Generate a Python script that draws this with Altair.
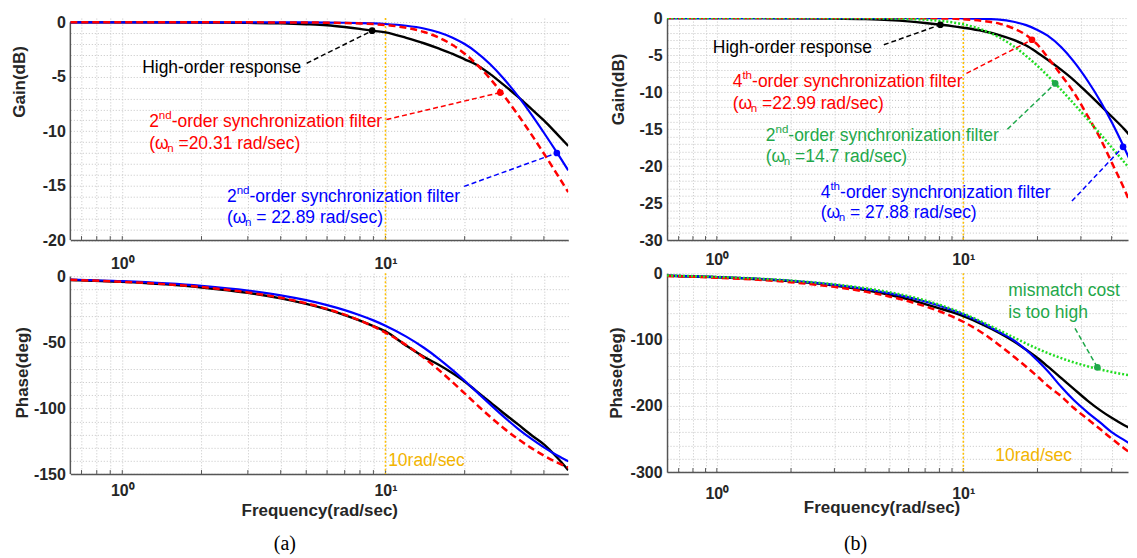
import altair as alt
import pandas as pd

FONT = "Liberation Sans"
SERIF = "Liberation Serif"
INK = "#262626"
AXIS = "#555555"
GRID = "#c4c4c4"
GOLD_LINE = "#ffc000"
GOLD_TEXT = "#f2b400"
RED = "#ff0000"
BLUE = "#0000ff"
BLACK = "#000000"
GREEN = "#22dd22"
GREEN_TXT = "#1fa84a"

grid_freqs = [0.7, 0.8, 0.9, 1, 2, 3, 4, 5, 6, 7, 8, 9, 10, 20, 30, 40]

# ---------------- panel (a) ----------------
freq_a = [0.635, 1, 2, 3, 4, 5, 6, 7, 8, 9, 10, 12, 14, 16, 18, 20, 22, 25, 28, 32, 36, 40, 45, 49.5]
gain_a_high = [0, 0, -0.02, -0.05, -0.09, -0.17, -0.27, -0.43, -0.6, -0.78, -0.92, -1.43, -1.92, -2.42,
               -2.9, -3.4, -3.85, -4.76, -5.7, -6.87, -8.0, -9.01, -10.29, -11.35]
gain_a_red = [0, 0, 0, -0.002, -0.007, -0.016, -0.033, -0.061, -0.103, -0.164, -0.248, -0.5, -0.885, -1.415,
              -2.087, -2.879, -3.76, -5.18, -6.64, -8.55, -10.36, -12.05, -14.0, -15.6]
gain_a_blue = [0, 0, 0, -0.001, -0.004, -0.01, -0.02, -0.038, -0.064, -0.103, -0.155, -0.316, -0.569, -0.93,
               -1.406, -1.994, -2.679, -3.844, -5.105, -6.83, -8.52, -10.14, -12.02, -13.59]
phase_a_high = [-2.6, -4.1, -8.3, -12.4, -16.6, -20.8, -25.0, -29.3, -33.5, -37.6, -41.6, -52.5, -61.0, -67.2,
                -73.5, -79.8, -86.5, -95.4, -103.4, -112.5, -120.7, -127.4, -137.6, -147.0]
phase_a_red = [-2.53, -3.99, -8.0, -12.06, -16.16, -20.33, -24.6, -28.95, -33.4, -37.94, -42.58, -52.08, -61.7,
               -71.2, -80.3, -88.75, -96.45, -106.5, -114.8, -123.6, -130.5, -135.95, -141.3, -145.1]
phase_a_blue = [-2.25, -3.54, -7.1, -10.68, -14.3, -17.97, -21.7, -25.5, -29.4, -33.3, -37.36, -45.63, -54.1,
                -62.65, -71.06, -79.16, -86.8, -97.1, -106.0, -115.8, -123.5, -129.7, -135.9, -140.2]

# ---------------- panel (b) ----------------
freq_b = [0.628, 1, 2, 3, 4, 5, 6, 7, 8, 9, 10, 12, 14, 16, 18, 20, 22, 25, 28, 32, 36, 40, 45, 50.6]
gain_b_high = [0, 0, -0.02, -0.06, -0.14, -0.27, -0.45, -0.66, -0.88, -1.08, -1.3, -1.75, -2.3, -2.95,
               -3.71, -4.67, -5.62, -7.0, -8.34, -10.15, -11.8, -13.3, -15.0, -17.0]
gain_b_red = [0, 0, 0, 0, 0, 0, -0.01, -0.02, -0.04, -0.07, -0.15, -0.38, -0.75, -1.4,
              -2.3, -3.6, -5.3, -7.73, -9.99, -13.25, -16.3, -19.5, -23.1, -27.2]
gain_b_blue = [0, 0, 0, 0, 0, 0, 0, 0, 0, -0.01, -0.03, -0.1, -0.2, -0.5,
               -0.95, -1.6, -2.38, -3.95, -5.82, -8.5, -11.23, -14.04, -17.52, -21.25]
gain_b_green = [0, 0, -0.001, -0.008, -0.024, -0.058, -0.119, -0.218, -0.365, -0.57, -0.843, -1.596, -2.607,
                -3.81, -5.12, -6.46, -7.79, -9.72, -11.51, -13.7, -15.68, -17.47, -19.48, -21.5]
phase_b_high = [-3.8, -6.0, -12.0, -18.5, -25.5, -32.5, -39.5, -46.5, -53.0, -58.8, -64.8, -77.5, -90.0,
                -102.5, -115.5, -128.0, -140.6, -158.3, -174.1, -192.5, -206.9, -218.2, -229.4, -238.5]
phase_b_red = [-4.2, -6.7, -13.6, -20.6, -27.8, -35.0, -42.4, -49.9, -57.4, -65.2, -73.2, -90.5, -108.5,
               -125.5, -141.0, -155.8, -169.7, -185.9, -203.0, -220.2, -235.5, -249.5, -264.3, -278.7]
phase_b_blue = [-3.6, -5.7, -11.5, -17.5, -23.8, -30.0, -36.3, -42.6, -49.0, -55.5, -62.0, -75.5, -88.8,
                -100.8, -115.9, -131.8, -147.6, -171.8, -191.0, -210.2, -225.5, -239.7, -251.9, -263.7]
phase_b_green = [-3.46, -5.52, -11.09, -16.76, -22.56, -28.54, -34.71, -41.05, -47.56, -54.17, -60.82, -73.88,
                 -86.05, -96.84, -106.1, -113.86, -120.36, -128.2, -134.3, -140.5, -145.3, -149.0, -152.65, -155.8]

marker_freq = [10]

# annotation anchors (frequency, value)
ann_a_black_line = [(5.02, -3.76), (8.9, -0.77)]
ann_a_red_line = [(10.09, -8.93), (27.3, -6.45)]
ann_a_blue_line = [(19.9, -15.07), (44.8, -12.0)]
ann_b_black_line = [(4.76, -3.61), (8.07, -0.9)]
ann_b_red_line = [(10.3, -7.48), (19.0, -2.93)]
ann_b_green_line = [(15.1, -15.03), (23.6, -8.83)]
ann_b_blue_line = [(27.6, -24.73), (44.5, -17.4)]
ann_b_mismatch_line = [(28.4, -83.2), (35.0, -142.0)]

# Arial-like advance widths (per 1000 em)
WID = {' ': 278, '(': 333, ')': 333, '-': 333, '.': 278, '/': 278, '=': 584, 'ω': 700,
       'H': 722, 'a': 556, 'b': 556, 'c': 500, 'd': 556, 'e': 556, 'f': 278, 'g': 556, 'h': 556,
       'i': 222, 'l': 222, 'm': 833, 'n': 556, 'o': 556, 'p': 556, 'r': 333, 's': 500, 't': 278,
       'u': 556, 'y': 500, 'z': 500}


def tw(s):
    return sum(WID.get(c, 556) for c in s) / 1000.0


def xenc(domain, label_pad, title="", title_x=0, title_y=0):
    ax = dict(values=grid_freqs,
              labelExpr="datum.value == 1 ? '10⁰' : (datum.value == 10 ? '10¹' : '')",
              grid=True, gridColor=GRID, gridDash=[1, 2], gridWidth=1,
              ticks=False, domain=True, domainColor=AXIS, domainWidth=1.5,
              labelFont=FONT, labelFontSize=16, labelFontWeight="bold", labelColor=INK,
              labelPadding=label_pad, labelOverlap=False, labelBound=False, labelFlush=False,
              title=title)
    if title:
        ax.update(titleFont=FONT, titleFontSize=17, titleFontWeight="bold", titleColor=INK,
                  titleX=title_x, titleY=title_y, titleAlign="center", titleBaseline="middle")
    return alt.X("f:Q", scale=alt.Scale(type="log", domain=domain, nice=False), axis=alt.Axis(**ax))


def yenc(domain, values, step, title, tx, ty, show_domain=True):
    return alt.Y("v:Q", scale=alt.Scale(domain=domain, nice=False, zero=False),
                 axis=alt.Axis(values=values,
                               labelExpr=f"datum.value % {step} == 0 ? '' + datum.value : ''",
                               grid=True, gridColor=GRID, gridDash=[1, 2], gridWidth=1, ticks=False,
                               domain=show_domain, domainColor=AXIS, domainWidth=1.5,
                               labelFont=FONT, labelFontSize=16,
                               labelFontWeight="bold", labelColor=INK, labelPadding=5,
                               labelOverlap=False, labelBound=False, labelFlush=False,
                               title=title, titleFont=FONT, titleFontSize=17, titleFontWeight="bold",
                               titleColor=INK, titleAngle=270, titleX=tx, titleY=ty,
                               titleAlign="center", titleBaseline="middle"))


def left_edge(top, bottom, Y):
    df = pd.DataFrame({"v": [top], "v2": [bottom]})
    return alt.Chart(df).mark_rule(color=AXIS, strokeWidth=1.5).encode(
        x=alt.value(0), y=Y, y2="v2:Q")


def curve(freqs, vals, color, X, Y, dash=None, width=2.2):
    df = pd.DataFrame({"f": freqs, "v": vals})
    kw = dict(color=color, strokeWidth=width, clip=True, interpolate="monotone")
    if dash is not None:
        kw["strokeDash"] = dash
    return alt.Chart(df).mark_line(**kw).encode(x=X, y=Y)


def pointer(pts, color, X, Y):
    df = pd.DataFrame({"f": [p[0] for p in pts], "v": [p[1] for p in pts]})
    line = alt.Chart(df).mark_line(color=color, strokeWidth=1.5, strokeDash=[5, 3]).encode(x=X, y=Y)
    dot = alt.Chart(df.iloc[[1]]).mark_circle(size=45, color=color, opacity=1).encode(x=X, y=Y)
    return [line, dot]


def rich(f, v, parts, color, X, Y, size=17.5):
    """Text with super/subscript pieces; leading spaces become a horizontal offset."""
    df = pd.DataFrame({"f": [f], "v": [v]})
    out = []
    off = 0.0
    for txt, kind in parts:
        fs = size if kind == "n" else round(size * 0.66, 1)
        dy = {"n": 0, "sup": -6, "sub": 5}[kind]
        stripped = txt.lstrip(" ")
        off += (len(txt) - len(stripped)) * 0.278 * fs
        out.append(alt.Chart(df).mark_text(text=stripped, align="left", baseline="middle", dx=round(off, 1),
                                           dy=dy, font=FONT, fontSize=fs, color=color).encode(x=X, y=Y))
        off += tw(stripped) * fs
    return out


def frame(X, height):
    ticks = alt.Chart(pd.DataFrame({"f": grid_freqs})).mark_rule(color=AXIS, strokeWidth=1).encode(
        x=X, y=alt.value(height - 4), y2=alt.value(height))
    mark = alt.Chart(pd.DataFrame({"f": marker_freq})).mark_rule(
        color=GOLD_LINE, strokeWidth=1.5, strokeDash=[2, 2]).encode(x=X)
    return [ticks, mark]


def caption(txt, x, y):
    return alt.Chart(pd.DataFrame({"k": [0]})).mark_text(
        text=txt, font=SERIF, fontSize=20, color="#000000", align="center", baseline="middle").encode(
        x=alt.value(x), y=alt.value(y))


WA, WB = 499, 462
HG = 222.5   # both gain panels (left one carries a small headroom above 0 dB)
HP_A, HP_B = 201.3, 199.3
DOM_A = [0.635, 49.5]
DOM_B = [0.628, 46.6]

# ---- (a) gain ----
X = xenc(DOM_A, 15)
Y = yenc([-20, 0.39], list(range(-20, 1)), 5, "Gain(dB)", -51, 63.5, show_domain=False)
layers = frame(X, HG) + [left_edge(0, -20, Y)]
layers += [curve(freq_a, gain_a_high, BLACK, X, Y, width=2.4),
           curve(freq_a, gain_a_blue, BLUE, X, Y),
           curve(freq_a, gain_a_red, RED, X, Y, dash=[7, 4], width=2.5)]
layers += pointer(ann_a_black_line, BLACK, X, Y)
layers += pointer(ann_a_red_line, RED, X, Y)
layers += pointer(ann_a_blue_line, BLUE, X, Y)
layers += rich(1.19, -4.16, [("High-order response", "n")], BLACK, X, Y)
layers += rich(1.265, -9.11, [("2", "n"), ("nd", "sup"), ("-order synchronization filter", "n")], RED, X, Y)
layers += rich(1.265, -11.22, [("(ω", "n"), ("n", "sub"), (" =20.31 rad/sec)", "n")], RED, X, Y)
layers += rich(2.50, -16.0, [("2", "n"), ("nd", "sup"), ("-order synchronization filter", "n")], BLUE, X, Y)
layers += rich(2.50, -18.0, [("(ω", "n"), ("n", "sub"), (" = 22.89 rad/sec)", "n")], BLUE, X, Y)
gain_a = alt.layer(*layers).properties(width=WA, height=HG)

# ---- (a) phase ----
X = xenc(DOM_A, 8, "Frequency(rad/sec)", WA / 2, 37)
Y = yenc([-150, 2.5], list(range(-150, 1, 10)), 50, "Phase(deg)", -48, 99.3, show_domain=False)
layers = frame(X, HP_A) + [left_edge(0, -150, Y)]
layers += [curve(freq_a, phase_a_high, BLACK, X, Y, width=2.4),
           curve(freq_a, phase_a_blue, BLUE, X, Y),
           curve(freq_a, phase_a_red, RED, X, Y, dash=[7, 4], width=2.5)]
layers += rich(10.24, -140.2, [("10rad/sec", "n")], GOLD_TEXT, X, Y)
layers += [caption("(a)", 215, 271.3)]
phase_a = alt.layer(*layers).properties(width=WA, height=HP_A)

# ---- (b) gain ----
X = xenc(DOM_B, 11)
Y = yenc([-30, 0], list(range(-30, 1)), 5, "Gain(dB)", -48.5, 71)
layers = frame(X, HG)
layers += [curve(freq_b, gain_b_high, BLACK, X, Y, width=2.4),
           curve(freq_b, gain_b_blue, BLUE, X, Y),
           curve(freq_b, gain_b_red, RED, X, Y, dash=[7, 4], width=2.5),
           curve(freq_b, gain_b_green, GREEN, X, Y, dash=[2, 2], width=2.5)]
layers += pointer(ann_b_black_line, BLACK, X, Y)
layers += pointer(ann_b_red_line, RED, X, Y)
layers += pointer(ann_b_green_line, GREEN_TXT, X, Y)
layers += pointer(ann_b_blue_line, BLUE, X, Y)
layers += rich(0.963, -3.98, [("High-order response", "n")], BLACK, X, Y)
layers += rich(1.16, -8.69, [("4", "n"), ("th", "sup"), ("-order synchronization filter", "n")], RED, X, Y)
layers += rich(1.16, -11.66, [("(ω", "n"), ("n", "sub"), (" =22.99 rad/sec)", "n")], RED, X, Y)
layers += rich(1.58, -15.97, [("2", "n"), ("nd", "sup"), ("-order synchronization filter", "n")], GREEN_TXT, X, Y)
layers += rich(1.58, -18.8, [("(ω", "n"), ("n", "sub"), (" =14.7 rad/sec)", "n")], GREEN_TXT, X, Y)
layers += rich(2.64, -23.65, [("4", "n"), ("th", "sup"), ("-order synchronization filter", "n")], BLUE, X, Y)
layers += rich(2.64, -26.35, [("(ω", "n"), ("n", "sub"), (" = 27.88 rad/sec)", "n")], BLUE, X, Y)
gain_b = alt.layer(*layers).properties(width=WB, height=HG)

# ---- (b) phase ----
X = xenc(DOM_B, 13, "Frequency(rad/sec)", 215, 36)
Y = yenc([-300, 0], list(range(-300, 1, 20)), 100, "Phase(deg)", -50.5, HP_B / 2)
layers = frame(X, HP_B)
layers += [curve(freq_b, phase_b_high, BLACK, X, Y, width=2.4),
           curve(freq_b, phase_b_blue, BLUE, X, Y),
           curve(freq_b, phase_b_red, RED, X, Y, dash=[7, 4], width=2.5),
           curve(freq_b, phase_b_green, GREEN, X, Y, dash=[2, 2], width=2.5)]
layers += pointer(ann_b_mismatch_line, GREEN_TXT, X, Y)
layers += rich(15.23, -27.5, [("mismatch cost", "n")], GREEN_TXT, X, Y)
layers += rich(15.23, -60.6, [("is too high", "n")], GREEN_TXT, X, Y)
layers += rich(13.48, -276.0, [("10rad/sec", "n")], GOLD_TEXT, X, Y)
layers += [caption("(b)", 189, 271.3)]
phase_b = alt.layer(*layers).properties(width=WB, height=HP_B)

chart = alt.concat(gain_a, gain_b, phase_a, phase_b, columns=2,
                   spacing={"row": 32.7, "column": 99}, bounds="flush").properties(
    padding={"left": 1.5, "top": 0.5, "right": 0, "bottom": 0},
    background="#ffffff",
).configure_view(stroke="transparent")

chart.save("out.html", embed_options={"renderer": "svg", "actions": False})
